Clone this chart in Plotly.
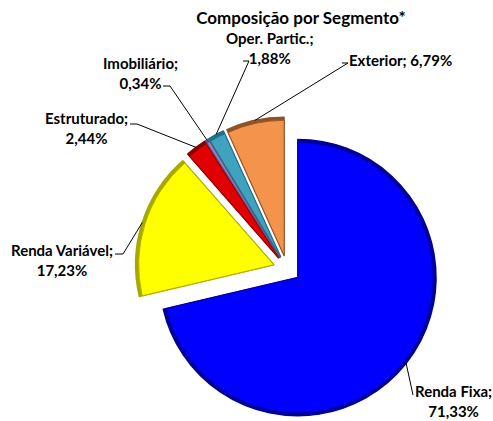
import math
import plotly.graph_objects as go

# ---- data ----
categories = ["Renda Fixa", "Renda Variável", "Estruturado", "Imobiliário", "Oper. Partic.", "Exterior"]
values = [71.33, 17.23, 2.44, 0.34, 1.88, 6.79]
value_labels = ["71,33%", "17,23%", "2,44%", "0,34%", "1,88%", "6,79%"]
title_text = "Composição por Segmento*"

# ---- style / layout ----
W, H = 493, 421
colors = ["#0000FF", "#FFFF00", "#E00000", "#9486BE", "#3FA2BE", "#F4944C"]
rim_colors = ["#00009A", "#A8A800", "#8A0000", "#5A4F82", "#226F86", "#8E5326"]
PULL = 0.1
RIM = 3                          # bevel rim thickness (px)
cx_px, R_px = 287, 152          # pie centre x and outer (pull inclusive) radius
cy_from_bottom = R_px
r_px = R_px / (1 + PULL)

dom_x = [(cx_px - R_px) / W, (cx_px + R_px) / W]
dom_y = [0, 2 * R_px / H]
dom_x_in = [(cx_px - R_px + RIM) / W, (cx_px + R_px - RIM) / W]
dom_y_in = [RIM / H, (2 * R_px - RIM) / H]
pull_in = PULL * r_px / (r_px - RIM)

# label layout: text centre, then leader-line points (knee, end) in pixels
label_layout = {
    "Renda Fixa":     dict(tx=453, ty=401, pts=[(413, 395)]),
    "Renda Variável": dict(tx=62, ty=260, pts=[(123, 254), (115, 254)]),
    "Estruturado":    dict(tx=86, ty=128, pts=[(137, 124), (130, 124)]),
    "Imobiliário":    dict(tx=140, ty=73, pts=[(170, 86), (163, 86)]),
    "Oper. Partic.":  dict(tx=270, ty=48, pts=[(249, 61), (243, 61)]),
    "Exterior":       dict(tx=400, ty=60, pts=[(348, 63), (342, 63)]),
}

fig = go.Figure()
# outer (rim) layer
fig.add_trace(go.Pie(
    labels=categories, values=values, sort=False, direction="clockwise", rotation=0,
    pull=[PULL] * len(values),
    marker=dict(colors=rim_colors, line=dict(color=rim_colors, width=1.5)),
    textinfo="none", hoverinfo="skip",
    domain=dict(x=dom_x, y=dom_y), showlegend=False,
))
# inner (face) layer
fig.add_trace(go.Pie(
    labels=categories, values=values, sort=False, direction="clockwise", rotation=0,
    pull=[pull_in] * len(values),
    marker=dict(colors=colors, line=dict(color=rim_colors, width=0.8)),
    textinfo="none", hoverinfo="label+percent",
    domain=dict(x=dom_x_in, y=dom_y_in), showlegend=False,
))

# leader lines & labels: tip computed from data (mid angle of each slice)
total = sum(values)
cum = 0.0
shapes = []
annotations = []
for cat, v, vl in zip(categories, values, value_labels):
    mid = (cum + v / 2) / total * 2 * math.pi
    cum += v
    tip_x = cx_px + R_px * math.sin(mid)
    tip_y = H - (cy_from_bottom + R_px * math.cos(mid))  # screen px
    lay = label_layout[cat]
    pts = [(tip_x, tip_y)] + lay["pts"]
    path = "M " + " L ".join(f"{x / W:.5f},{1 - y / H:.5f}" for x, y in pts)
    shapes.append(dict(type="path", xref="paper", yref="paper", path=path,
                       line=dict(color="black", width=1)))
    if cat == "Exterior":
        txt = f"{cat}; {vl}"
    else:
        txt = f"{cat};<br>{vl}"
    annotations.append(dict(
        x=lay["tx"] / W, y=1 - lay["ty"] / H, xref="paper", yref="paper",
        text=txt, showarrow=False, xanchor="center", yanchor="middle",
        align="center",
        font=dict(family="Lato", size=15, color="black", weight="bold"),
    ))

fig.update_layout(
    width=W, height=H,
    margin=dict(l=0, r=0, t=0, b=0),
    paper_bgcolor="white",
    plot_bgcolor="white",
    title=dict(text=title_text, x=301 / W, xanchor="center",
               y=1 - 18 / H, yanchor="middle", yref="container",
               font=dict(family="Lato", size=17, color="black", weight="bold")),
    shapes=shapes,
    annotations=annotations,
)

fig.write_html("out.html", config={"displayModeBar": False},
               post_script="document.body.style.margin='0';")
